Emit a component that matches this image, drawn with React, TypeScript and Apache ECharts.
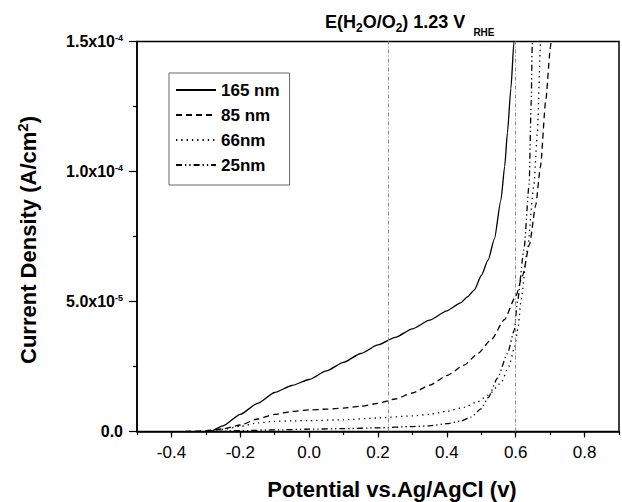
import React, { useEffect, useRef } from "react";
import * as echarts from "echarts";

// Potential (V vs Ag/AgCl) and current density (in units of 1e-5 A/cm^2)
const UNIT = 1e-5;
const SERIES_NAMES = ["165 nm", "85 nm", "66nm", "25nm"];

const CURVE_165: [number, number][] = [
  [-0.284, 0], [-0.25, 0.22], [-0.2, 0.66], [-0.15, 1.08], [-0.1, 1.5], [-0.05, 1.77],
  [0, 2.0], [0.05, 2.33], [0.1, 2.66], [0.15, 3.0], [0.2, 3.33], [0.25, 3.62],
  [0.3, 3.95], [0.35, 4.28], [0.4, 4.64], [0.44, 4.95], [0.461, 5.19], [0.48, 5.45],
  [0.5, 6.0], [0.52, 6.6], [0.538, 7.4], [0.557, 8.9], [0.568, 10.2], [0.576, 11.5],
  [0.586, 13.2], [0.595, 15.0], [0.6, 16.0],
];
const CURVE_85: [number, number][] = [
  [-0.36, 0], [-0.3, 0.03], [-0.25, 0.1], [-0.2, 0.25], [-0.15, 0.48], [-0.1, 0.66],
  [-0.05, 0.77], [0, 0.83], [0.05, 0.86], [0.1, 0.9], [0.15, 0.97], [0.2, 1.08],
  [0.25, 1.25], [0.3, 1.48], [0.35, 1.78], [0.4, 2.15], [0.45, 2.55], [0.49, 3.0],
  [0.53, 3.55], [0.567, 4.3], [0.6, 5.2], [0.62, 6.0], [0.64, 7.2], [0.658, 8.7],
  [0.672, 10.2], [0.687, 12.7], [0.701, 14.8], [0.706, 15.6],
];
const CURVE_66: [number, number][] = [
  [-0.3, 0], [-0.25, 0.08], [-0.2, 0.2], [-0.15, 0.33], [-0.1, 0.39], [-0.05, 0.41],
  [0, 0.42], [0.1, 0.45], [0.2, 0.52], [0.3, 0.6], [0.35, 0.66], [0.4, 0.78],
  [0.45, 0.93], [0.49, 1.15], [0.52, 1.4], [0.557, 1.86], [0.58, 2.5], [0.596, 3.2],
  [0.607, 4.0], [0.615, 5.0], [0.634, 7.0], [0.653, 9.5], [0.663, 11.5], [0.672, 14.9],
  [0.675, 15.6],
];
const CURVE_25: [number, number][] = [
  [-0.27, 0], [-0.2, 0.03], [-0.1, 0.06], [0, 0.09], [0.1, 0.11], [0.2, 0.14],
  [0.3, 0.19], [0.35, 0.22], [0.4, 0.3], [0.44, 0.4], [0.47, 0.55], [0.5, 0.88],
  [0.52, 1.3], [0.547, 2.05], [0.576, 3.0], [0.596, 3.9], [0.605, 5.0], [0.624, 7.0],
  [0.639, 9.5], [0.645, 12.7], [0.648, 14.9], [0.65, 15.6],
];
const CURVES = [CURVE_165, CURVE_85, CURVE_66, CURVE_25];
const DASHES: (number[] | string)[] = ["solid", [6, 4], [1.3, 4], [6, 3, 1.3, 3, 1.3, 3]];

const REFERENCE_POTENTIALS = [0.233, 0.6];

const X_MIN = -0.5;
const X_MAX = 0.9;
const X_STEP = 0.1;
const X_LABELED = [-0.4, -0.2, 0.0, 0.2, 0.4, 0.6, 0.8];
const Y_MIN = 0;
const Y_MAX = 1.5e-4;
const Y_STEP = 5e-5;

const FONT = "'Liberation Sans', Arial, Helvetica, sans-serif";

function yLabel(v: number): string {
  if (v === 0) return "{b|0.0}";
  const exp = Math.floor(Math.log10(v) + 1e-9);
  const mant = v / Math.pow(10, exp);
  return `{b|${mant.toFixed(1)}x10}{s|${exp}}`;
}

function xLabel(v: number): string {
  const k = Math.round(v * 10);
  const hit = X_LABELED.some((t) => Math.round(t * 10) === k);
  return hit ? (k / 10).toFixed(1) : "";
}

export default function App() {
  const ref = useRef<HTMLDivElement>(null);
  useEffect(() => {
    if (!ref.current) return;
    const chart = echarts.init(ref.current, undefined, { renderer: "svg" });
    const series: any[] = CURVES.map((curve, i) => ({
      name: SERIES_NAMES[i],
      type: "line",
      data: curve.map(([x, y]) => [x, y * UNIT]),
      symbol: "none",
      showSymbol: false,
      smooth: 0.2,
      smoothMonotone: "x",
      clip: true,
      lineStyle: { color: "#000", width: 1.3, type: DASHES[i] },
      itemStyle: { color: "#000" },
      z: 3,
    }));
    series[0].markLine = {
      silent: true,
      symbol: ["none", "none"],
      label: { show: false },
      lineStyle: { color: "#8a8a8a", width: 1, type: [4, 2, 1, 2] },
      data: REFERENCE_POTENTIALS.map((p) => ({ xAxis: p })),
    };

    chart.setOption({
      animation: false,
      backgroundColor: "#fff",
      grid: {
        left: 137,
        top: 41.5,
        width: 483,
        height: 390,
        show: true,
        borderColor: "#000",
        borderWidth: 1.5,
        backgroundColor: "transparent",
      },
      legend: {
        data: SERIES_NAMES,
        orient: "vertical",
        left: 169,
        top: 73,
        itemWidth: 40,
        itemHeight: 14,
        itemGap: 7,
        padding: [8, 10, 11, 6],
        borderColor: "#666",
        borderWidth: 1,
        itemStyle: { color: "transparent", borderColor: "transparent", borderWidth: 0, opacity: 0 },
        textStyle: { fontFamily: FONT, fontSize: 17, fontWeight: "bold", color: "#000", lineHeight: 18 },
      },
      xAxis: [
        {
          type: "value",
          min: X_MIN,
          max: X_MAX,
          interval: X_STEP,
          axisLine: { show: true, onZero: false, lineStyle: { color: "#000", width: 1.5 } },
          axisTick: { show: true, length: 3.5, lineStyle: { color: "#000", width: 1.2 } },
          axisLabel: {
            formatter: xLabel,
            margin: 12,
            fontFamily: FONT,
            fontSize: 17,
            color: "#000",
            showMinLabel: true,
            showMaxLabel: true,
          },
          splitLine: { show: false },
        },
        {
          type: "value",
          position: "bottom",
          min: X_MIN,
          max: X_MAX,
          interval: X_STEP,
          axisLine: { show: false, onZero: false },
          axisTick: { show: true, length: 6, customValues: X_LABELED, lineStyle: { color: "#000", width: 1.2 } },
          axisLabel: { show: false },
          splitLine: { show: false },
        },
      ],
      yAxis: {
        type: "value",
        min: Y_MIN,
        max: Y_MAX,
        interval: Y_STEP,
        axisLine: { show: true, onZero: false, lineStyle: { color: "#000", width: 1.5 } },
        axisTick: { show: true, length: 8, lineStyle: { color: "#000", width: 1.2 } },
        minorTick: { show: true, splitNumber: 2, length: 4, lineStyle: { color: "#000", width: 1.2 } },
        splitLine: { show: false },
        axisLabel: {
          formatter: yLabel,
          margin: 14,
          rich: {
            b: { fontFamily: FONT, fontSize: 16, fontWeight: "bold", color: "#000", lineHeight: 16, verticalAlign: "bottom" },
            s: { fontFamily: FONT, fontSize: 9, fontWeight: "bold", color: "#000", lineHeight: 9, verticalAlign: "top", padding: [0, 0, 9, 0] },
          },
        },
      },
      graphic: [
        {
          type: "text",
          x: 325,
          y: 13,
          style: {
            text: "{m|E(H}{s|2}{m|O/O}{s|2}{m|) 1.23 V}{r|RHE}",
            verticalAlign: "top",
            align: "left",
            rich: {
              m: { fontFamily: FONT, fontSize: 18, fontWeight: "bold", fill: "#000", lineHeight: 20, verticalAlign: "top" },
              s: { fontFamily: FONT, fontSize: 12, fontWeight: "bold", fill: "#000", lineHeight: 12, verticalAlign: "top", padding: [8.5, 0, 0, 0] },
              r: { fontFamily: FONT, fontSize: 10, fontWeight: "bold", fill: "#000", lineHeight: 10, verticalAlign: "top", padding: [14, 0, 0, 8] },
            },
          },
        },
        {
          type: "text",
          x: 27,
          y: 240,
          rotation: Math.PI / 2,
          style: {
            text: "{m|Current Density (A/cm}{s|2}{m|)}",
            align: "center",
            verticalAlign: "middle",
            rich: {
              m: { fontFamily: FONT, fontSize: 22, fontWeight: "bold", fill: "#000", lineHeight: 24, verticalAlign: "bottom" },
              s: { fontFamily: FONT, fontSize: 15, fontWeight: "bold", fill: "#000", lineHeight: 15, verticalAlign: "top", padding: [0, 0, 16, 0] },
            },
          },
        },
        {
          type: "text",
          x: 392,
          y: 489.5,
          style: {
            text: "Potential vs.Ag/AgCl (v)",
            align: "center",
            verticalAlign: "middle",
            fontFamily: FONT,
            fontSize: 22,
            fontWeight: "bold",
            fill: "#000",
          },
        },
      ],
      series,
    });
    return () => chart.dispose();
  }, []);
  return (
    <div
      ref={ref}
      style={{ position: "fixed", left: 0, top: 0, width: 622, height: 502, background: "#fff" }}
    />
  );
}
